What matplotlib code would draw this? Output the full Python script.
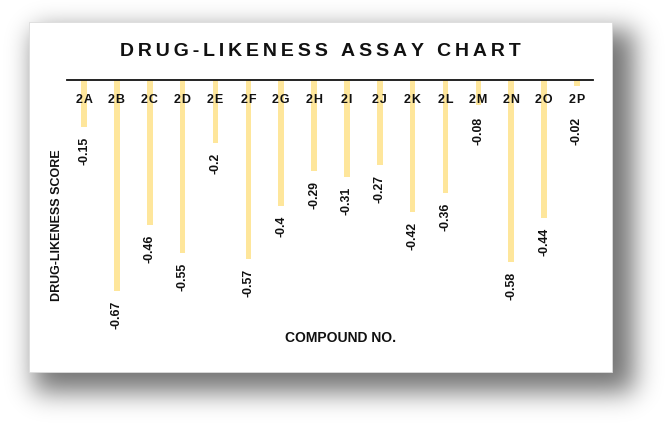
import numpy as np
import matplotlib
matplotlib.use("Agg")
import matplotlib.pyplot as plt
from matplotlib.patches import Rectangle

plt.rcParams['font.family'] = ['Liberation Sans', 'DejaVu Sans']

compounds = ['2A', '2B', '2C', '2D', '2E', '2F', '2G', '2H',
             '2I', '2J', '2K', '2L', '2M', '2N', '2O', '2P']
scores = [-0.15, -0.67, -0.46, -0.55, -0.2, -0.57, -0.4, -0.29,
          -0.31, -0.27, -0.42, -0.36, -0.08, -0.58, -0.44, -0.02]

title = 'DRUG-LIKENESS ASSAY CHART'
bar_color = '#FEE69B'
W, H = 666, 426


def spaced(s, sep='\u2009'):
    """Fake letter spacing with thin spaces."""
    return sep.join(s)


def gaussian_blur(img, sigma):
    r = int(3 * sigma)
    k = np.exp(-0.5 * (np.arange(-r, r + 1) / sigma) ** 2)
    k /= k.sum()
    out = np.apply_along_axis(lambda v: np.convolve(v, k, mode='same'), 0, img)
    out = np.apply_along_axis(lambda v: np.convolve(v, k, mode='same'), 1, out)
    return out


fig = plt.figure(figsize=(W / 100, H / 100), dpi=100)
fig.patch.set_facecolor('white')

# background: drop shadow + white card
bg = fig.add_axes([0, 0, 1, 1])
bg.set_xlim(0, W)
bg.set_ylim(H, 0)
bg.axis('off')

mask = np.zeros((H, W))
mask[30:392, 34:634] = 1.0
shadow = gaussian_blur(mask, 13)
rgba = np.zeros((H, W, 4))
rgba[..., 3] = 0.55 * shadow
bg.imshow(rgba, extent=(0, W, H, 0), aspect='auto', interpolation='bilinear')
bg.add_patch(Rectangle((29, 22), 583, 350, facecolor='white',
                       edgecolor='#dcdcdc', linewidth=0.6))

# main chart
ax = fig.add_axes([67 / W, (H - 80 - 283) / H, 526 / W, 283 / H])
ax.patch.set_alpha(0)
x = np.arange(len(compounds))
ax.bar(x, scores, width=0.17, color=bar_color, zorder=1)
ax.set_xlim(-0.52, 15.49)
ax.set_ylim(-0.9, 0)

for side in ['left', 'right', 'bottom']:
    ax.spines[side].set_visible(False)
ax.spines['top'].set_linewidth(1.3)
ax.spines['top'].set_color('#111111')
ax.set_xticks([])
ax.set_yticks([])

for xi, name, val in zip(x, compounds, scores):
    ax.annotate(spaced(name, '\u200a'), xy=(xi, 0), xytext=(0, -14.5),
                textcoords='offset points', ha='center', va='center',
                fontsize=9, fontweight='bold', color='#111111', zorder=3)
    # short bars: keep the value below the compound label
    ax.annotate(f'{val:g}', xy=(xi, min(val, -0.085)), xytext=(0, -7),
                textcoords='offset points', ha='center', va='top',
                rotation=90, fontsize=8.8, fontweight='bold', color='#111111')

fig.text(320 / W, 1 - 51 / H, spaced(title), ha='center', va='center',
         fontsize=14, fontweight='bold', color='#111111')
fig.text(57.5 / W, 1 - 225 / H, 'DRUG-LIKENESS SCORE', rotation=90,
         ha='center', va='center', fontsize=9, fontweight='bold', color='#111111')
fig.text(340.5 / W, 1 - 338 / H, 'COMPOUND NO.', ha='center', va='center',
         fontsize=10, fontweight='bold', color='#111111')

fig.savefig('out.png', dpi=100)
